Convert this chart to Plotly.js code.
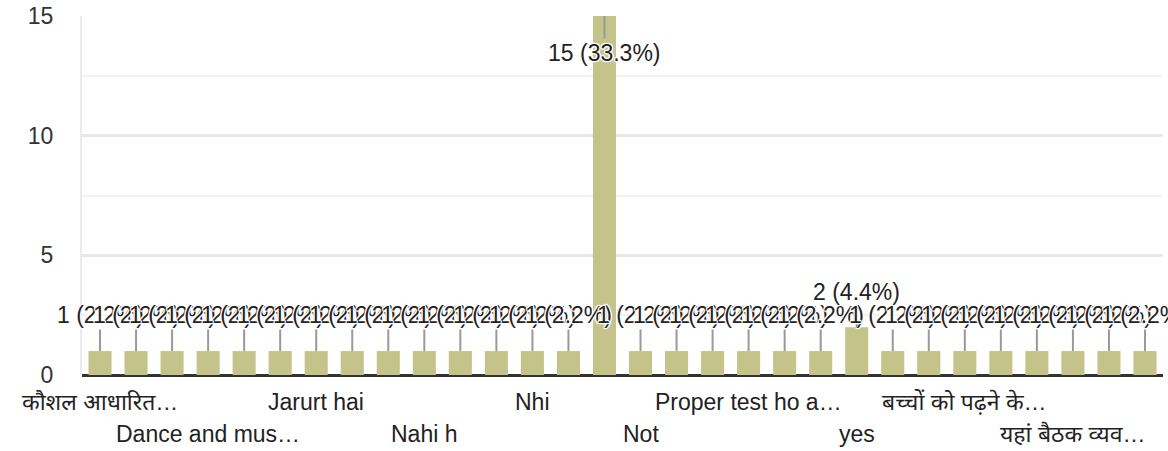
<!DOCTYPE html>
<html>
<head>
<meta charset="utf-8">
<script src="https://cdn.plot.ly/plotly-3.0.1.min.js"></script>
<style>html,body{margin:0;padding:0;background:#fff;}#chart{width:1168px;height:451px;}</style>
</head>
<body>
<div id="chart"></div>
<script>
// Categories (full answers) in chart order
const categories = [
  "कौशल आधारित शिक्षा", "Achha hai", "All good", "Dance and music", "Good", "Haa",
  "Jarurt hai", "Koi nahi", "Kuch nahi", "Nahi h", "Nahi", "Nahin",
  "Nhi", "Nil", "No", "Not", "Nothing", "Ok",
  "Proper test ho aur", "Sab thik hai", "Very good", "yes", "Yes sir", "अच्छा है",
  "बच्चों को पढ़ने के लिए", "बहुत अच्छा", "मध्यान्ह भोजन", "यहां बैठक व्यवस्था", "शिक्षक की कमी", "सब ठीक है"
];
// Response counts
const counts = [1,1,1,1,1,1, 1,1,1,1,1,1, 1,1,15,1,1,1, 1,1,1,2,1,1, 1,1,1,1,1,1];
// Axis label texts shown under the bars (every third category, as displayed)
const tickIndex = [0,3,6,9,12,15,18,21,24,27];
const tickLabels = ["कौशल आधारित…","Dance and mus…","Jarurt hai","Nahi h","Nhi","Not","Proper test ho a…","yes","बच्चों को पढ़ने के…","यहां बैठक व्यव…"];
const yTicks = [0,5,10,15];

const total = counts.reduce((a,b)=>a+b,0);
const FONT = "Liberation Sans, Arial, Noto Sans, sans-serif";
const halo = "1px 0 1px #fff, -1px 0 1px #fff, 0 1px 1px #fff, 0 -1px 1px #fff, 1px 1px 1px #fff, -1px -1px 1px #fff, 1px -1px 1px #fff, -1px 1px 1px #fff";

const annotations = [];
counts.forEach((v,i)=>{
  const pct = (v/total*100).toFixed(1);
  let ay = -36;
  if (v >= 15) ay = 37;
  else if (v === 2) ay = -35;
  annotations.push({
    x: categories[i], y: v, xref:'x', yref:'y',
    text: v + " (" + pct + "%)",
    showarrow: true, arrowhead: 0, arrowwidth: 2, arrowcolor: '#999999',
    ax: 0, ay: ay, standoff: 0,
    font: {family: FONT, size: 23, color: '#222222', shadow: halo}
  });
});
tickIndex.forEach((idx,k)=>{
  annotations.push({
    x: categories[idx], y: 0, xref:'x', yref:'paper',
    text: tickLabels[k], showarrow:false,
    yanchor:'middle', yshift: (k%2===0) ? -27 : -59,
    font: {family: FONT, size: 23, color: '#222222'}
  });
});

const trace = {
  type: 'bar', x: categories, y: counts,
  marker: {color: '#c4c38a'},
  hoverinfo: 'x+y'
};

const layout = {
  width: 1168, height: 451,
  margin: {l: 82, r: 5, t: 16, b: 76},
  paper_bgcolor: '#ffffff', plot_bgcolor: '#ffffff',
  showlegend: false,
  bargap: 0.36,
  xaxis: {
    type: 'category', showticklabels: false, showgrid: false, zeroline: false,
    showline: false, ticks: '', range: [-0.5, categories.length - 0.5]
  },
  yaxis: {
    range: [0, 15], tickmode: 'array', tickvals: yTicks, ticktext: yTicks.map(String),
    showgrid: true, gridcolor: '#e8e8e8', gridwidth: 3,
    minor: {dtick: 2.5, showgrid: true, gridcolor: '#f1f1f1', gridwidth: 2},
    zeroline: true, zerolinecolor: '#333333', zerolinewidth: 3,
    showline: true, linecolor: '#ebebeb', linewidth: 2,
    ticks: '', ticklabelstandoff: 22,
    tickfont: {family: FONT, size: 23, color: '#333333'}
  },
  annotations: annotations
};

Plotly.newPlot('chart', [trace], layout, {displayModeBar: false, staticPlot: true});
</script>
</body>
</html>
